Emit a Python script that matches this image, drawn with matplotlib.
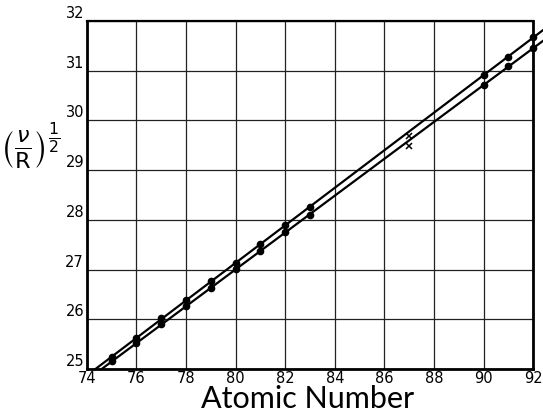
import numpy as np
import matplotlib.pyplot as plt

# atomic numbers
z_dots = [75, 76, 77, 78, 79, 80, 81, 82, 83, 90, 91, 92]
z_cross = [87]

# upper line
upper_dots = [25.24, 25.62, 26.02, 26.39, 26.77, 27.13, 27.51, 27.90, 28.26, 30.91, 31.28, 31.68]
upper_cross = [29.69]
# lower line
lower_dots = [25.16, 25.52, 25.90, 26.27, 26.63, 27.01, 27.37, 27.75, 28.10, 30.71, 31.09, 31.46]
lower_cross = [29.48]

xticks = [74, 76, 78, 80, 82, 84, 86, 88, 90, 92]
yticks = [25, 26, 27, 28, 29, 30, 31, 32]

fig = plt.figure(figsize=(5.43, 4.12), dpi=100)
ax = fig.add_axes([0.160, 0.104, 0.822, 0.845])
ax.set_xlim(74, 92)
ax.set_ylim(25, 32)

ax.set_xticks(xticks)
ax.set_yticks(yticks)
ax.grid(True, color='#222222', lw=0.9)
ax.set_axisbelow(True)
ax.tick_params(length=0, labelsize=10.5)
ax.tick_params(axis='x', pad=1)
ax.tick_params(axis='y', pad=2)
for lab in ax.get_yticklabels():
    lab.set_verticalalignment('bottom')
for s in ax.spines.values():
    s.set_linewidth(2.0)
ax.spines['top'].set_linewidth(1.6)

for zs, ys in [(z_dots, upper_dots), (z_dots, lower_dots)]:
    k, b = np.polyfit(zs, ys, 1)
    x0 = (25 - b) / k
    xs = np.array([x0, 92.4])
    ax.plot(xs, k * xs + b, color='black', lw=1.6, clip_on=False)

ax.plot(z_dots, upper_dots, 'o', color='black', ms=4.5, clip_on=False)
ax.plot(z_dots, lower_dots, 'o', color='black', ms=4.5, clip_on=False)
ax.plot(z_cross, upper_cross, 'x', color='black', ms=5, mew=1.1)
ax.plot(z_cross, lower_cross, 'x', color='black', ms=5, mew=1.1)

fig.text(0.567, 0.01, 'Atomic Number', fontsize=22, family='Lato',
         color='black', ha='center', va='baseline')
fig.text(0.056, 0.645, r'$\left(\frac{\nu}{\mathrm{R}}\right)^{\frac{1}{2}}$', fontsize=23,
         ha='center', va='center')

fig.savefig('out.png', dpi=100)
